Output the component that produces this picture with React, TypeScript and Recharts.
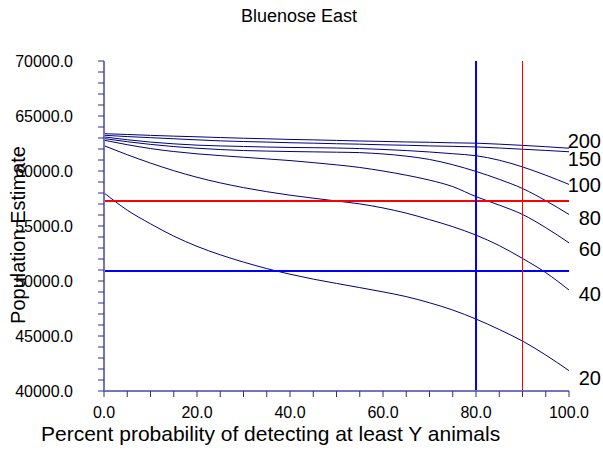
import { LineChart, Line, XAxis, YAxis, ReferenceLine, LabelList, Label } from 'recharts'

// percent probability (x axis)
const pct = [0, 5, 10, 15, 20, 25, 30, 35, 40, 45, 50, 55, 60, 65, 70, 75, 80, 85, 90, 95, 100]

// population estimate curves, one per Y
const y20 = [58010, 56440, 55200, 54080, 53150, 52380, 51720, 51130, 50620, 50170, 49780, 49400, 49010, 48580, 48020, 47360, 46540, 45590, 44540, 43270, 41850]
const y40 = [62300, 61480, 60720, 60030, 59430, 58920, 58490, 58120, 57800, 57530, 57270, 57010, 56640, 56170, 55580, 54940, 54170, 53220, 52050, 50760, 49180]
const y60 = [62800, 62390, 62040, 61770, 61560, 61400, 61250, 61100, 60950, 60760, 60560, 60320, 60000, 59620, 59170, 58580, 57670, 56900, 56050, 54850, 53470]
const y80 = [62950, 62660, 62420, 62220, 62070, 61950, 61860, 61810, 61770, 61740, 61710, 61670, 61550, 61350, 61050, 60570, 59960, 59240, 58410, 57300, 56050]
const y100 = [63100, 62840, 62630, 62470, 62350, 62280, 62230, 62180, 62140, 62120, 62090, 62040, 61960, 61860, 61730, 61570, 61390, 60980, 60370, 59620, 58780]
const y150 = [63250, 63130, 63030, 62930, 62830, 62740, 62680, 62630, 62570, 62530, 62480, 62440, 62380, 62340, 62280, 62240, 62190, 62090, 61980, 61870, 61750]
const y200 = [63390, 63320, 63240, 63170, 63110, 63040, 62980, 62930, 62870, 62830, 62780, 62730, 62690, 62640, 62610, 62560, 62530, 62440, 62330, 62210, 62070]

const seriesNames = ['20', '40', '60', '80', '100', '150', '200']
const seriesValues = [y20, y40, y60, y80, y100, y150, y200]
// small vertical nudges so end labels don't collide
const labelNudge = [7, 4, 6, 3, 0, 7.5, -7]

const xMajor = [0, 20, 40, 60, 80, 100]
const yMajor = [40000, 45000, 50000, 55000, 60000, 65000, 70000]
const xTicks = Array.from({ length: 21 }, (_, i) => i * 5)
const yTicks = Array.from({ length: 31 }, (_, i) => 40000 + i * 1000)

// target lines
const hRed = 57270
const hBlue = 50900
const vBlue = 80
const vRed = 90

const data = pct.map((p, i) => {
  const row: Record<string, number> = { pct: p }
  seriesNames.forEach((n, s) => {
    row['y' + n] = seriesValues[s][i]
  })
  return row
})

const FONT = '"Liberation Sans", Arial, sans-serif'
const AXIS = '#7474c0'
const TICK = '#2c2c94'

function EndLabel(name: string, nudge: number) {
  // eslint-disable-next-line @typescript-eslint/no-explicit-any
  return (props: any) => {
    const { x, y, index } = props
    if (index !== pct.length - 1) return null
    return (
      <text x={x + 32} y={y + nudge} dy="0.36em" textAnchor="end" fontSize={20} fontFamily={FONT} fill="#000">
        {name}
      </text>
    )
  }
}

export default function App() {
  return (
    <div style={{ position: 'relative', width: 603, height: 451, fontFamily: FONT }}>
      <style>{'body{margin:0}'}</style>
      <div
        style={{
          position: 'absolute',
          top: 6,
          left: 0,
          width: 598,
          textAlign: 'center',
          fontSize: 18,
          color: '#000',
        }}
      >
        Bluenose East
      </div>
      <LineChart width={603} height={451} data={data} margin={{ top: 61, right: 34, bottom: 0, left: 0 }}>
        <XAxis
          dataKey="pct"
          type="number"
          domain={[0, 100]}
          ticks={xTicks}
          interval={0}
          tickFormatter={(v: number) => (xMajor.includes(v) ? v.toFixed(1) : '')}
          tick={{ fontSize: 16, fill: '#000', fontFamily: FONT }}
          tickSize={6}
          tickMargin={10}
          axisLine={{ stroke: AXIS, strokeWidth: 2 }}
          tickLine={{ stroke: TICK }}
          height={60}
        >
          <Label
            content={() => (
              <text x={41} y={441} fontSize={21} fontFamily={FONT} fill="#000">
                Percent probability of detecting at least Y animals
              </text>
            )}
          />
        </XAxis>
        <YAxis
          type="number"
          domain={[40000, 70000]}
          ticks={yTicks}
          interval={0}
          tickFormatter={(v: number) => (yMajor.includes(v) ? v.toFixed(1) : '')}
          tick={{ fontSize: 16, fill: '#000', fontFamily: FONT }}
          tickSize={6}
          tickMargin={25}
          axisLine={{ stroke: AXIS, strokeWidth: 2 }}
          tickLine={{ stroke: TICK }}
          width={104}
        >
          <Label
            content={() => (
              <text
                x={25}
                y={235}
                transform="rotate(-90 25 235)"
                textAnchor="middle"
                fontSize={20}
                fontFamily={FONT}
                fill="#000"
              >
                Population Estimate
              </text>
            )}
          />
        </YAxis>
        {seriesNames.map((n, s) => (
          <Line
            key={n}
            dataKey={'y' + n}
            type="monotone"
            stroke="#000080"
            strokeWidth={1}
            dot={false}
            isAnimationActive={false}
          >
            <LabelList dataKey={'y' + n} content={EndLabel(n, labelNudge[s])} />
          </Line>
        ))}
        <ReferenceLine y={hRed} stroke="#ff0000" strokeWidth={2} />
        <ReferenceLine y={hBlue} stroke="#0000ff" strokeWidth={2} />
        <ReferenceLine x={vBlue} stroke="#0000ff" strokeWidth={2} />
        <ReferenceLine x={vRed} stroke="#ff0000" strokeWidth={1} />
      </LineChart>
    </div>
  )
}
